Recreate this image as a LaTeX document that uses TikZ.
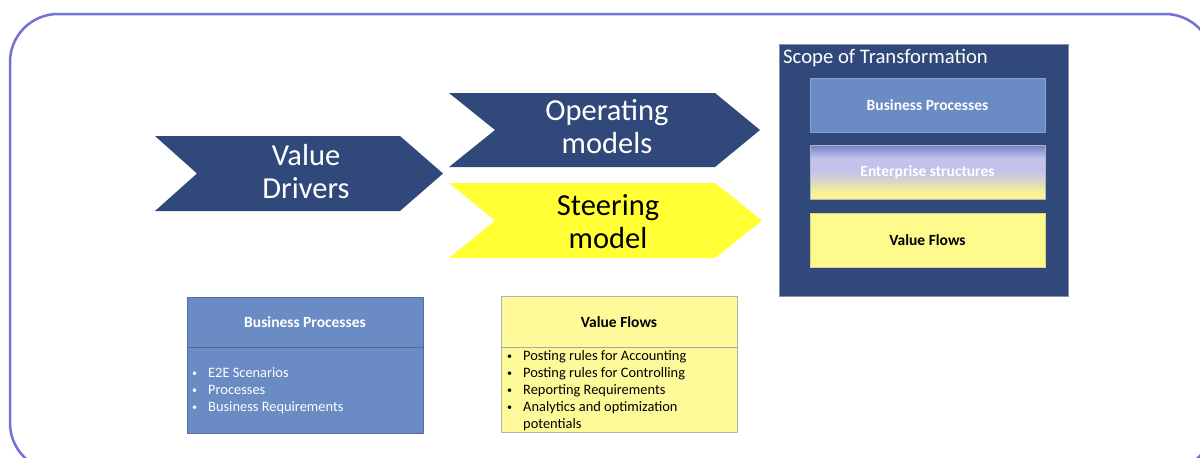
\documentclass[tikz,border=0pt]{standalone}
\usepackage{fontspec}
\setmainfont{Carlito}
\usetikzlibrary{positioning}

\definecolor{navy}{HTML}{30497A}
\definecolor{bpblue}{HTML}{6A8BC4}
\definecolor{vfyellow}{HTML}{FFFA99}
\definecolor{sgyellow}{HTML}{FFFF33}
\definecolor{inyellow}{HTML}{FFFA8C}
\definecolor{esblue}{HTML}{7084C8}
\definecolor{eslav}{HTML}{C4C2EC}
\definecolor{esyellow}{HTML}{F8F290}
\definecolor{framec}{HTML}{7272D2}
\pgfdeclareverticalshading{esshade}{100bp}{color(0bp)=(esyellow); color(32bp)=(esyellow); color(42bp)=(esyellow!40!eslav); color(52bp)=(eslav); color(63bp)=(eslav); color(70bp)=(esblue!55!eslav); color(75bp)=(esblue); color(100bp)=(esblue)}

\tikzset{
  chev/.style={fill=#1,draw=none},
  biglbl/.style={font=\fontsize{30.5}{33}\selectfont,align=center,inner sep=0pt},
  inbox/.style={minimum width=235pt,minimum height=54pt,inner sep=0pt,draw=#1,line width=0.8pt,font=\fontsize{15.5}{17}\selectfont\bfseries},
  listbox/.style={minimum width=236pt,minimum height=136pt,inner sep=0pt,anchor=north west,line width=0.8pt},
  hdr/.style={font=\fontsize{15.5}{17}\selectfont\bfseries,inner sep=0pt},
  item/.style={font=\fontsize{14.4}{17}\selectfont,inner sep=0pt,anchor=base west},
}
\newcommand{\blt}{\makebox[16pt][l]{\raisebox{0.5pt}{\fontsize{10}{10}\selectfont\textbullet}}}

\begin{document}
\begin{tikzpicture}[x=1pt,y=-1pt]
\useasboundingbox (0,0) rectangle (1200,458);
\clip (0,0) rectangle (1200,458);
\fill[white] (0,0) rectangle (1200,458);
% outer frame
\draw[framec,line width=2.5pt,rounded corners=48pt] (10,14) rectangle (1213,471);

% chevrons
\fill[chev=navy] (155,136) -- (400,136) -- (443,173.5) -- (400,211) -- (155,211) -- (197,173.5) -- cycle;
\node[biglbl,text=white] (vd) at (306,172) {Value\\Drivers};
\fill[chev=navy] (449,93) -- (715,93) -- (760,130) -- (715,167) -- (449,167) -- (495,130) -- cycle;
\node[biglbl,text=white] (om) at (607,127) {Operating\\models};
\fill[chev=sgyellow] (449,183) -- (715,183) -- (762,220.5) -- (715,258) -- (449,258) -- (495,220.5) -- cycle;
\node[biglbl,text=black] (sm) at (608,222) {Steering\\model};

% scope of transformation
\node[listbox,fill=navy,draw=navy!60!white,minimum width=289pt,minimum height=252pt] (scope) at (779,44) {};
\node[anchor=west,inner sep=0pt,text=white,font=\fontsize{20.7}{22}\selectfont] (stitle) at (783,58) {Scope of Transformation};
\node[inbox=bpblue!80!white,fill=bpblue,text=white] (sbp) at (927.5,105) {Business Processes};
\node[inbox=navy!40!white,shading=esshade,text=white] (ses) at (927.5,172.5) {Enterprise structures};
\node[inbox=inyellow!70!gray,fill=inyellow,text=black] (svf) at (927.5,240.5) {Value Flows};

% business processes list
\node[listbox,fill=bpblue,draw=bpblue!80!black] (bpl) at (187,297) {};
\draw[bpblue!75!black,line width=0.8pt] ([yshift=-50pt]bpl.north west) -- ([yshift=-50pt]bpl.north east);
\node[hdr,text=white] (bph) at (305,322) {Business Processes};
\foreach \t [count=\i] in {E2E Scenarios,Processes,Business Requirements}
  \node[item,text=white] (bp-\i) at (192,360+17*\i) {\blt\t};

% value flows list
\node[listbox,fill=vfyellow,draw=black!30] (vfl) at (501,296) {};
\draw[black!35,line width=0.8pt] ([yshift=-51pt]vfl.north west) -- ([yshift=-51pt]vfl.north east);
\node[hdr,text=black] (vfh) at (619,322) {Value Flows};
\foreach \t [count=\i] in {Posting rules for Accounting,Posting rules for Controlling,Reporting Requirements,Analytics and optimization}
  \node[item,text=black] (vf-\i) at (507,343+17*\i) {\blt\t};
\node[item,text=black] (vf-5) at (523,428) {potentials};
\end{tikzpicture}
\end{document}
